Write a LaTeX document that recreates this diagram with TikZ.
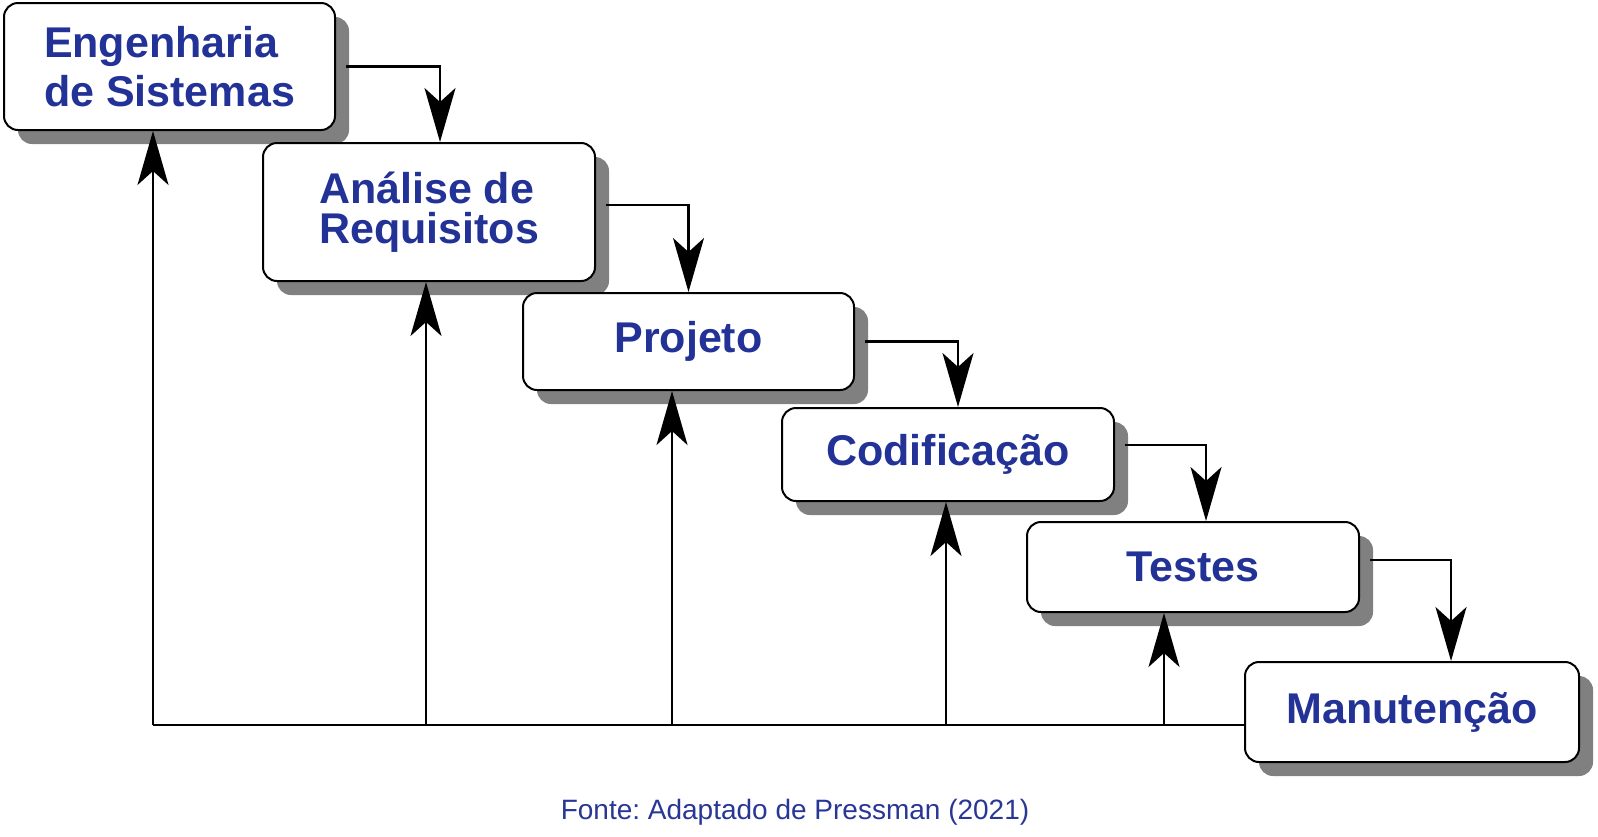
\documentclass[tikz,border=0pt]{standalone}
\usepackage{fontspec}
\setmainfont{Liberation Sans}
\usepackage{xcolor}
\usetikzlibrary{arrows.meta, positioning, shadows, calc}
\definecolor{fasetext}{RGB}{35,50,150}
\definecolor{fontetext}{RGB}{40,55,150}
\frenchspacing

\begin{document}
\begin{tikzpicture}[
    x=0.5pt, y=-0.5pt,
    font=\fontsize{21.5}{24.5}\selectfont\bfseries,
    box/.style={draw, line width=1pt, rounded corners=7pt, fill=white, text=fasetext, align=left, inner sep=0pt,
        drop shadow={shadow xshift=7pt, shadow yshift=-7pt, fill=black!50, opacity=1}},
    arrow/.style={-{Stealth[length=27pt, width=15.5pt, inset=7pt]}, line width=1.1pt}
]
\useasboundingbox (0,0) rectangle (1598,836);

% Phases
\node[box, minimum width=165.5pt, minimum height=63.5pt] (eng) at (169.5,66.5) {Engenharia\\de Sistemas};
\node[box, minimum width=166pt, minimum height=69pt, font=\fontsize{21.5}{20}\selectfont\bfseries] (req) at (429,212) {Análise de\\Requisitos};
\node[box, minimum width=165.5pt, minimum height=48.5pt] (proj) at (688.5,341.5) {Projeto};
\node[box, minimum width=166pt, minimum height=46.5pt] (cod) at (948,454.5) {Codificação};
\node[box, minimum width=166pt, minimum height=45pt] (tes) at (1193,567) {Testes};
\node[box, minimum width=167pt, minimum height=50pt] (man) at (1412,712) {Manutenção};

% Forward flow
\draw[arrow] ([xshift=5pt]eng.east) -| ([xshift=5.5pt]req.north);
\draw[arrow] ([xshift=5pt, yshift=3.5pt]req.east) -| (proj.north);
\draw[arrow] ([xshift=5pt]proj.east) -| ([xshift=5pt]cod.north);
\draw[arrow] ([xshift=5pt, yshift=4.75pt]cod.east) -| ([xshift=6.5pt]tes.north);
\draw[arrow] ([xshift=5pt, yshift=3.5pt]tes.east) -| ([xshift=19.5pt]man.north);

% Feedback
\coordinate (base) at (153,725);
\draw[line width=1.1pt] (base) -- (base -| man.west);
\draw[arrow] (base) -- (base |- eng.south);
\draw[arrow] ([xshift=-1.5pt]req.south |- base) -- ([xshift=-1.5pt]req.south);
\draw[arrow] ([xshift=-8.25pt]proj.south |- base) -- ([xshift=-8.25pt]proj.south);
\draw[arrow] ([xshift=-1pt]cod.south |- base) -- ([xshift=-1pt]cod.south);
\draw[arrow] ([xshift=-14.5pt]tes.south |- base) -- ([xshift=-14.5pt]tes.south);

% Source
\node[font=\fontsize{14}{16}\selectfont, text=fontetext] (fonte) at (795,812) {Fonte: Adaptado de Pressman (2021)};

\end{tikzpicture}
\end{document}
